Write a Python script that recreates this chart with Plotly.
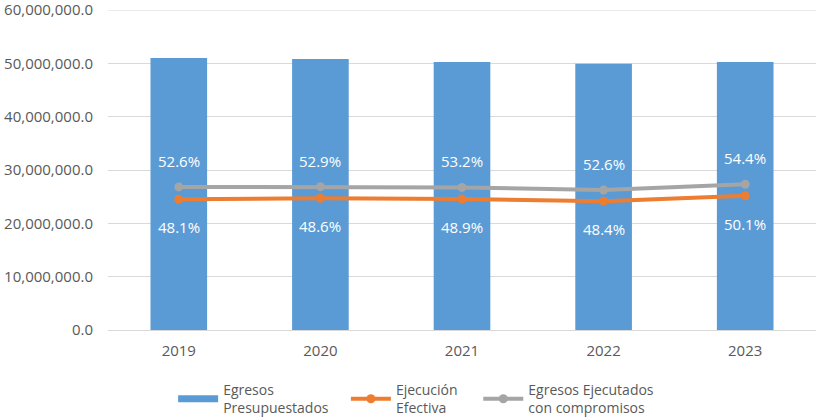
import plotly.graph_objects as go

# Budget execution 2019-2023
years = ["2019", "2020", "2021", "2022", "2023"]
presupuestado = [51_000_000, 50_800_000, 50_250_000, 49_900_000, 50_250_000]
pct_ejecucion = [48.1, 48.6, 48.9, 48.4, 50.1]
pct_compromisos = [52.6, 52.9, 53.2, 52.6, 54.4]
y_ticks = [0, 10_000_000, 20_000_000, 30_000_000, 40_000_000, 50_000_000, 60_000_000]

ejecucion = [p * q / 100 for p, q in zip(presupuestado, pct_ejecucion)]
compromisos = [p * q / 100 for p, q in zip(presupuestado, pct_compromisos)]

FONT = "Open Sans, Liberation Sans, Arial, sans-serif"
TXT = "#595959"
BLUE, ORANGE, GRAY, GRID = "#5B9BD5", "#ED7D31", "#A5A5A5", "#D9D9D9"

fig = go.Figure()
fig.add_trace(go.Bar(
    x=years, y=presupuestado, name="Egresos<br>Presupuestados", showlegend=False,
    marker=dict(color=BLUE, line=dict(width=0)), width=0.4,
))
# legend key for the bars drawn as a wide flat swatch
fig.add_trace(go.Scatter(
    x=[None], y=[None], mode="lines", name="Egresos<br>Presupuestados",
    line=dict(color=BLUE, width=7), legend="legend",
))
fig.add_trace(go.Scatter(
    x=years, y=ejecucion, name="Ejecución<br>Efectiva", legend="legend2",
    mode="lines+markers", line=dict(color=ORANGE, width=4),
    marker=dict(size=9, color=ORANGE),
))
fig.add_trace(go.Scatter(
    x=years, y=compromisos, name="Egresos Ejecutados<br>con compromisos", legend="legend3",
    mode="lines+markers", line=dict(color=GRAY, width=4),
    marker=dict(size=9, color=GRAY),
))

# percentage labels, placed by category index on the x axis
for i, (v, p) in enumerate(zip(compromisos, pct_compromisos)):
    fig.add_annotation(x=i, y=v, text=f"{p:.1f}%", showarrow=False,
                       yshift=26, font=dict(color="white", size=15, family=FONT))
for i, (v, p) in enumerate(zip(ejecucion, pct_ejecucion)):
    fig.add_annotation(x=i, y=v, text=f"{p:.1f}%", showarrow=False,
                       yshift=-28, font=dict(color="white", size=15, family=FONT))

# top gridline at the edge of the plot area
fig.add_shape(type="line", xref="paper", x0=0, x1=1, yref="y",
              y0=y_ticks[-1], y1=y_ticks[-1], line=dict(color=GRID, width=1), layer="below")

leg_common = dict(orientation="h", y=-0.1375, yanchor="top", xanchor="left",
                  font=dict(size=14, color=TXT, family=FONT), itemwidth=40,
                  bgcolor="rgba(0,0,0,0)")

fig.update_layout(
    template="none",
    width=817, height=418,
    margin=dict(l=108, r=1, t=10, b=88, autoexpand=False),
    plot_bgcolor="white", paper_bgcolor="white",
    font=dict(family=FONT, color=TXT, size=14),
    showlegend=True,
    legend=dict(x=0.092, **leg_common),
    legend2=dict(x=0.336, **leg_common),
    legend3=dict(x=0.523, **leg_common),
)
fig.update_xaxes(type="category", showgrid=False, showline=False, ticks="",
                 zeroline=False, automargin=False,
                 ticklabelstandoff=10, tickfont=dict(size=15, color=TXT))
fig.update_yaxes(range=[0, 60_000_000], tickvals=y_ticks, tickformat=",.1f",
                 showgrid=True, gridcolor=GRID, gridwidth=1,
                 zeroline=True, zerolinecolor=GRID, zerolinewidth=1,
                 showline=False, ticks="", ticklabelstandoff=14, automargin=False,
                 ticklabeloverflow="allow",
                 tickfont=dict(size=15, color=TXT))

fig.write_html("out.html")
